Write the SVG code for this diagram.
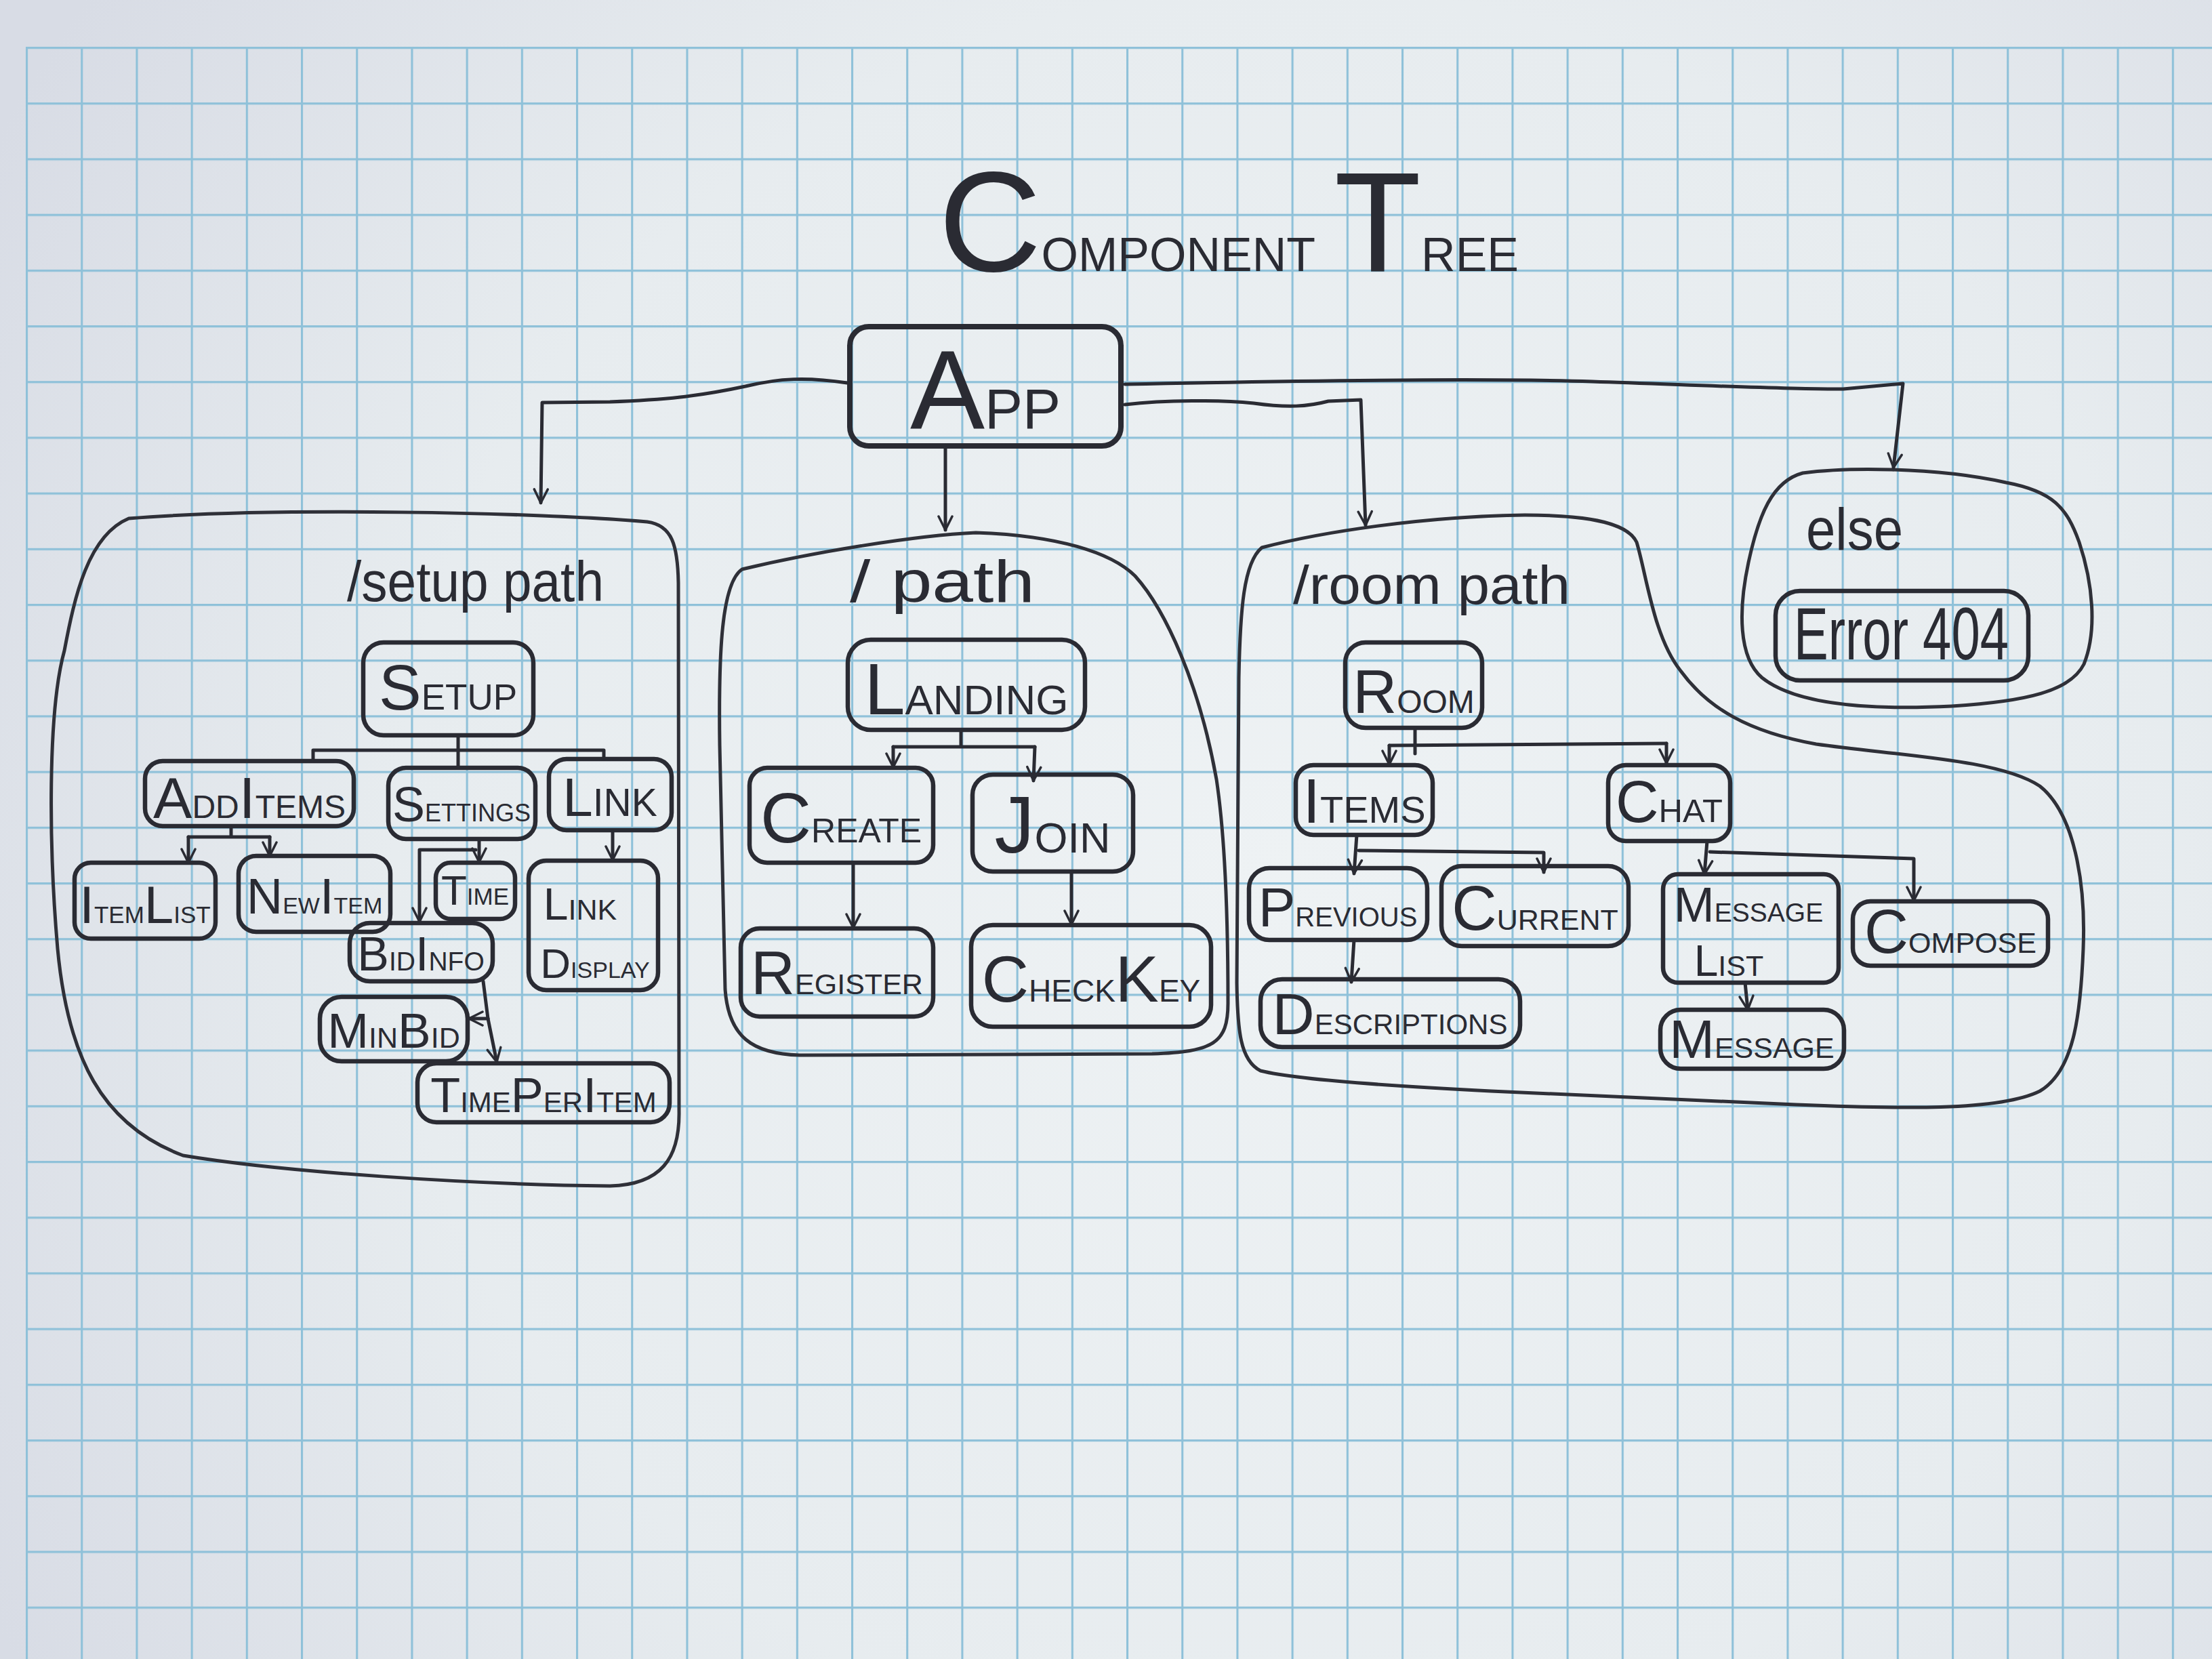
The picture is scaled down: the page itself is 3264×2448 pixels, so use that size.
<svg xmlns="http://www.w3.org/2000/svg" width="3264" height="2448" viewBox="0 0 3264 2448">
<style>
.box{fill:none;stroke:#2a2b33;stroke-width:6.5;stroke-linejoin:round}
.blob{fill:none;stroke:#2f3038;stroke-width:5;stroke-linejoin:round}
.con{fill:none;stroke:#2a2b33;stroke-width:5;stroke-linecap:round;stroke-linejoin:round}
.t{font-family:'Liberation Sans',Arial,sans-serif;fill:#2a2b33;font-variant:small-caps;text-anchor:middle}
.h{font-family:'Liberation Sans',Arial,sans-serif;fill:#2a2b33}
</style>
<defs>
<radialGradient id="paper" cx="1900" cy="1300" r="2200" gradientUnits="userSpaceOnUse">
<stop offset="0" stop-color="#eef2f4"/>
<stop offset="0.6" stop-color="#e7ecef"/>
<stop offset="1" stop-color="#d8dce5"/>
</radialGradient>
<pattern id="grid" x="38" y="69" width="81.2" height="82.2" patternUnits="userSpaceOnUse">
<path d="M0,1.5 H81.2 M1.5,0 V82.2" stroke="#8fc1d9" stroke-width="3.2" fill="none"/>
</pattern>
<marker id="ah" viewBox="0 0 10 10" refX="9" refY="5" markerWidth="5" markerHeight="5" orient="auto" markerUnits="strokeWidth">
<path d="M1,1 L9,5 L1,9" fill="none" stroke="#2a2b33" stroke-width="1.4" stroke-linecap="round" stroke-linejoin="round"/>
</marker>
</defs>

<rect x="0" y="0" width="3264" height="2448" fill="url(#paper)"/>
<rect x="38" y="69" width="3226" height="2379" fill="url(#grid)"/>

<g id="title">
<text class="t" x="1813" y="400" font-size="100"><tspan font-size="210">C</tspan>omponent <tspan font-size="210">T</tspan>ree</text>
</g>

<g id="regions">
<g id="setup-region">
<path class="blob" d="M190,765 C400,748 800,756 955,770 C992,775 1000,805 1001,860 L1002,1640 C1003,1710 975,1748 900,1750 C700,1748 420,1730 270,1705 C150,1660 100,1560 85,1400 C72,1250 70,1050 95,960 C110,880 130,790 190,765 Z"/>
<text class="h" x="512" y="887" font-size="84" textLength="379" lengthAdjust="spacingAndGlyphs">/setup path</text>
</g>
<g id="root-region">
<path class="blob" d="M1095,840 C1200,815 1350,790 1440,786 C1560,790 1640,815 1675,850 C1720,900 1770,1010 1795,1150 C1810,1250 1812,1400 1812,1480 C1812,1540 1790,1552 1700,1555 L1180,1557 C1110,1555 1075,1530 1070,1460 L1062,1100 C1060,960 1065,860 1095,840 Z"/>
<text class="h" x="1254" y="888" font-size="88" textLength="273" lengthAdjust="spacingAndGlyphs">/ path</text>
</g>
<g id="room-region">
<path class="blob" d="M1862,808 C1950,785 2100,762 2250,760 C2330,760 2400,768 2415,800 C2430,850 2440,940 2480,990 C2520,1045 2580,1080 2680,1098 C2800,1115 2950,1120 3010,1160 C3060,1200 3078,1300 3074,1400 C3070,1500 3060,1580 3010,1610 C2950,1640 2800,1636 2650,1630 L2200,1610 C2000,1600 1900,1590 1860,1580 C1830,1565 1826,1520 1825,1450 L1828,1000 C1830,900 1835,830 1862,808 Z"/>
<text class="h" x="1908" y="891" font-size="80" textLength="409" lengthAdjust="spacingAndGlyphs">/room path</text>
</g>
<g id="else-region">
<path class="blob" d="M2660,698 C2720,690 2850,688 2960,712 C3030,725 3050,750 3068,800 C3088,860 3095,930 3075,980 C3055,1020 2990,1035 2880,1042 C2760,1048 2650,1040 2600,1000 C2565,970 2565,900 2580,830 C2595,760 2615,710 2660,698 Z"/>
<text class="h" x="2665" y="811" font-size="88" textLength="143" lengthAdjust="spacingAndGlyphs">else</text>
</g>
</g>

<g id="connectors">
<path class="con" marker-end="url(#ah)" d="M1250,565 C1190,556 1150,558 1100,570 C1030,585 980,590 900,593 L800,594 L798,742"/>
<path class="con" marker-end="url(#ah)" d="M1395,660 L1395,782"/>
<path class="con" marker-end="url(#ah)" d="M1660,597 C1720,590 1800,590 1850,595 C1900,602 1930,600 1960,592 L2008,590 L2015,775"/>
<path class="con" marker-end="url(#ah)" d="M1660,567 C1900,562 2200,558 2350,563 C2500,568 2650,575 2720,574 L2808,566 L2794,690"/>
<path class="con" d="M676,1085 L676,1133 M462,1122 L462,1107 L891,1107 L891,1120"/>
<path class="con" d="M341,1219 L341,1235 M278,1235 L398,1235"/>
<path class="con" marker-end="url(#ah)" d="M278,1235 L278,1273"/>
<path class="con" marker-end="url(#ah)" d="M398,1235 L398,1263"/>
<path class="con" marker-end="url(#ah)" d="M707,1238 L707,1272"/>
<path class="con" marker-end="url(#ah)" d="M702,1254 L619,1254 L619,1360"/>
<path class="con" marker-end="url(#ah)" d="M904,1225 L904,1269"/>
<path class="con" marker-end="url(#ah)" d="M713,1448 L720,1503 L733,1567"/>
<path class="con" marker-end="url(#ah)" d="M720,1503 L692,1503"/>
<path class="con" d="M1418,1077 L1418,1102 M1318,1102 L1527,1102"/>
<path class="con" marker-end="url(#ah)" d="M1318,1102 L1318,1132"/>
<path class="con" marker-end="url(#ah)" d="M1527,1102 L1525,1152"/>
<path class="con" marker-end="url(#ah)" d="M1259,1273 L1259,1369"/>
<path class="con" marker-end="url(#ah)" d="M1581,1286 L1581,1364"/>
<path class="con" d="M2088,1074 L2088,1112 M2050,1100 L2459,1097"/>
<path class="con" marker-end="url(#ah)" d="M2050,1100 L2050,1128"/>
<path class="con" marker-end="url(#ah)" d="M2459,1097 L2459,1126"/>
<path class="con" marker-end="url(#ah)" d="M2002,1232 L1998,1289"/>
<path class="con" marker-end="url(#ah)" d="M2005,1255 L2278,1258 L2278,1287"/>
<path class="con" marker-end="url(#ah)" d="M1998,1387 L1994,1449"/>
<path class="con" marker-end="url(#ah)" d="M2519,1241 L2515,1290"/>
<path class="con" marker-end="url(#ah)" d="M2523,1257 L2824,1267 L2824,1329"/>
<path class="con" marker-end="url(#ah)" d="M2575,1450 L2579,1490"/>
</g>

<g id="app">
<rect class="box" x="1254" y="482" width="400" height="176" rx="28" style="stroke-width:8"/>
<text class="t" x="1454" y="632" font-size="120"><tspan font-size="165">A</tspan>pp</text>
</g>

<g id="setup">
<rect class="box" x="536" y="948" width="251" height="137" rx="30"/>
<text class="t" x="661" y="1047" font-size="76"><tspan font-size="94">S</tspan>etup</text>
</g>
<g id="additems">
<rect class="box" x="214" y="1123" width="308" height="96" rx="26"/>
<text class="t" x="368" y="1207" font-size="68"><tspan font-size="86">A</tspan>dd<tspan font-size="86">I</tspan>tems</text>
</g>
<g id="settings">
<rect class="box" x="573" y="1133" width="217" height="105" rx="26"/>
<text class="t" x="681" y="1212" font-size="51"><tspan font-size="72">S</tspan>ettings</text>
</g>
<g id="link">
<rect class="box" x="810" y="1120" width="181" height="105" rx="26"/>
<text class="t" x="900" y="1204" font-size="82"><tspan font-size="80">L</tspan>ink</text>
</g>
<g id="itemlist">
<rect class="box" x="110" y="1273" width="208" height="112" rx="24"/>
<text class="t" x="214" y="1362" font-size="50"><tspan font-size="78">I</tspan>tem<tspan font-size="78">L</tspan>ist</text>
</g>
<g id="newitem">
<rect class="box" x="352" y="1263" width="224" height="112" rx="26"/>
<text class="t" x="464" y="1348" font-size="48"><tspan font-size="74">N</tspan>ew<tspan font-size="74">I</tspan>tem</text>
</g>
<g id="time">
<rect class="box" x="643" y="1273" width="117" height="83" rx="22"/>
<text class="t" x="701" y="1335" font-size="50"><tspan font-size="62">T</tspan>ime</text>
</g>
<g id="linkdisplay">
<rect class="box" x="780" y="1270" width="191" height="191" rx="26"/>
<text class="t" x="856" y="1357" font-size="62"><tspan font-size="66">L</tspan>ink</text>
<text class="t" x="878" y="1443" font-size="48"><tspan font-size="62">D</tspan>isplay</text>
</g>
<g id="bidinfo">
<rect class="box" x="516" y="1362" width="211" height="86" rx="30"/>
<text class="t" x="621" y="1432" font-size="56"><tspan font-size="70">B</tspan>id<tspan font-size="70">I</tspan>nfo</text>
</g>
<g id="minbid">
<rect class="box" x="472" y="1471" width="218" height="95" rx="32"/>
<text class="t" x="581" y="1546" font-size="62"><tspan font-size="73">M</tspan>in<tspan font-size="73">B</tspan>id</text>
</g>
<g id="timeperitem">
<rect class="box" x="616" y="1569" width="372" height="87" rx="28"/>
<text class="t" x="802" y="1641" font-size="60"><tspan font-size="72">T</tspan>ime<tspan font-size="72">P</tspan>er<tspan font-size="72">I</tspan>tem</text>
</g>

<g id="landing">
<rect class="box" x="1251" y="944" width="350" height="133" rx="34"/>
<text class="t" x="1426" y="1054" font-size="88"><tspan font-size="108">L</tspan>anding</text>
</g>
<g id="create">
<rect class="box" x="1106" y="1133" width="271" height="140" rx="26"/>
<text class="t" x="1241" y="1243" font-size="72"><tspan font-size="104">C</tspan>reate</text>
</g>
<g id="join">
<rect class="box" x="1435" y="1143" width="237" height="143" rx="30"/>
<text class="t" x="1553" y="1258" font-size="90"><tspan font-size="118">J</tspan>oin</text>
</g>
<g id="register">
<rect class="box" x="1093" y="1370" width="284" height="130" rx="28"/>
<text class="t" x="1235" y="1467" font-size="62"><tspan font-size="90">R</tspan>egister</text>
</g>
<g id="checkkey">
<rect class="box" x="1433" y="1365" width="354" height="150" rx="32"/>
<text class="t" x="1610" y="1478" font-size="66"><tspan font-size="96">C</tspan>heck<tspan font-size="96">K</tspan>ey</text>
</g>

<g id="room">
<rect class="box" x="1985" y="948" width="202" height="126" rx="30"/>
<text class="t" x="2086" y="1052" font-size="68"><tspan font-size="90">R</tspan>oom</text>
</g>
<g id="items">
<rect class="box" x="1912" y="1129" width="202" height="103" rx="26"/>
<text class="t" x="2013" y="1214" font-size="80"><tspan font-size="92">I</tspan>tems</text>
</g>
<g id="chat">
<rect class="box" x="2373" y="1129" width="180" height="112" rx="26"/>
<text class="t" x="2463" y="1213" font-size="70"><tspan font-size="88">C</tspan>hat</text>
</g>
<g id="previous">
<rect class="box" x="1843" y="1281" width="263" height="106" rx="30"/>
<text class="t" x="1974" y="1367" font-size="57"><tspan font-size="82">P</tspan>revious</text>
</g>
<g id="current">
<rect class="box" x="2127" y="1278" width="276" height="118" rx="30"/>
<text class="t" x="2265" y="1372" font-size="62"><tspan font-size="92">C</tspan>urrent</text>
</g>
<g id="descriptions">
<rect class="box" x="1860" y="1445" width="383" height="100" rx="32"/>
<text class="t" x="2051" y="1526" font-size="60"><tspan font-size="86">D</tspan>escriptions</text>
</g>
<g id="messagelist">
<rect class="box" x="2454" y="1290" width="259" height="160" rx="22"/>
<text class="t" x="2580" y="1360" font-size="56"><tspan font-size="72">M</tspan>essage</text>
<text class="t" x="2551" y="1440" font-size="62"><tspan font-size="64">L</tspan>ist</text>
</g>
<g id="compose">
<rect class="box" x="2734" y="1330" width="288" height="95" rx="26"/>
<text class="t" x="2878" y="1406" font-size="62"><tspan font-size="90">C</tspan>ompose</text>
</g>
<g id="message">
<rect class="box" x="2450" y="1490" width="271" height="87" rx="30"/>
<text class="t" x="2585" y="1561" font-size="62"><tspan font-size="80">M</tspan>essage</text>
</g>

<g id="error404">
<rect class="box" x="2620" y="872" width="373" height="132" rx="36"/>
<text class="h" x="2647" y="973" font-size="110" textLength="317" lengthAdjust="spacingAndGlyphs">Error 404</text>
</g>
</svg>
